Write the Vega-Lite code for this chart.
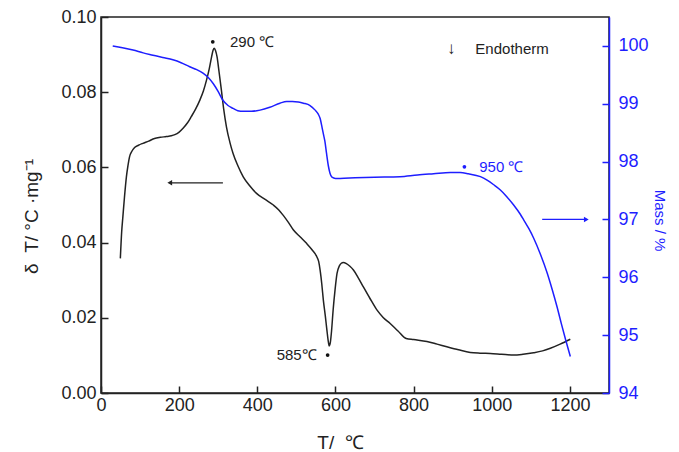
{
  "$schema": "https://vega.github.io/schema/vega-lite/v6.json",
  "width": 508,
  "height": 376,
  "autosize": {"type": "none"},
  "padding": {"left": 101, "top": 17, "right": 70, "bottom": 59},
  "background": "white",
  "config": {
    "font": "Liberation Sans",
    "view": {"stroke": "#222222", "strokeWidth": 1.5},
    "axis": {
      "grid": false,
      "labelFont": "Liberation Sans",
      "titleFont": "Liberation Sans",
      "labelFontSize": 18,
      "titleFontSize": 19,
      "titleFontWeight": "normal",
      "labelColor": "#222222",
      "titleColor": "#222222",
      "domainColor": "#222222",
      "tickColor": "#222222",
      "domainWidth": 1.5,
      "tickWidth": 1.5,
      "tickSize": -7
    }
  },
  "datasets": {
    "dta": [
      {"T": 49.5, "v": 0.0358}, {"T": 53, "v": 0.043}, {"T": 56, "v": 0.0469}, {"T": 60, "v": 0.052},
      {"T": 65, "v": 0.0575}, {"T": 69, "v": 0.0605}, {"T": 73, "v": 0.0628}, {"T": 79, "v": 0.0643},
      {"T": 86, "v": 0.0653}, {"T": 96, "v": 0.0659}, {"T": 107, "v": 0.0664}, {"T": 122, "v": 0.067},
      {"T": 137, "v": 0.0677}, {"T": 152, "v": 0.068}, {"T": 167, "v": 0.0682}, {"T": 180, "v": 0.0684},
      {"T": 189, "v": 0.0687}, {"T": 200, "v": 0.0694}, {"T": 210, "v": 0.0704}, {"T": 221, "v": 0.0718},
      {"T": 231, "v": 0.0735}, {"T": 242, "v": 0.0755}, {"T": 253, "v": 0.0779}, {"T": 262, "v": 0.0803},
      {"T": 270, "v": 0.0832}, {"T": 277, "v": 0.0862}, {"T": 283, "v": 0.0894}, {"T": 287, "v": 0.0912},
      {"T": 290, "v": 0.0917}, {"T": 293, "v": 0.0911}, {"T": 297, "v": 0.0894}, {"T": 302, "v": 0.0855},
      {"T": 308, "v": 0.0806}, {"T": 314, "v": 0.0755}, {"T": 321, "v": 0.0708}, {"T": 330, "v": 0.0666},
      {"T": 338, "v": 0.0637}, {"T": 350, "v": 0.0605}, {"T": 364, "v": 0.0575}, {"T": 380, "v": 0.0552},
      {"T": 398, "v": 0.0531}, {"T": 420, "v": 0.0515}, {"T": 441, "v": 0.05}, {"T": 455, "v": 0.0487},
      {"T": 466, "v": 0.0473}, {"T": 480, "v": 0.0453}, {"T": 492, "v": 0.0434}, {"T": 510, "v": 0.0415},
      {"T": 526, "v": 0.0398}, {"T": 540, "v": 0.0381}, {"T": 552, "v": 0.0363}, {"T": 557, "v": 0.035},
      {"T": 561, "v": 0.0325}, {"T": 565, "v": 0.029}, {"T": 569, "v": 0.0247}, {"T": 574, "v": 0.0205},
      {"T": 578, "v": 0.0168}, {"T": 581, "v": 0.0142}, {"T": 584, "v": 0.0125}, {"T": 587, "v": 0.0135},
      {"T": 590, "v": 0.0165}, {"T": 594, "v": 0.022}, {"T": 599, "v": 0.0275}, {"T": 604, "v": 0.0318},
      {"T": 610, "v": 0.0338}, {"T": 615, "v": 0.0345}, {"T": 620, "v": 0.0347}, {"T": 628, "v": 0.0344},
      {"T": 637, "v": 0.0337}, {"T": 646, "v": 0.0327}, {"T": 658, "v": 0.0307}, {"T": 671, "v": 0.0283},
      {"T": 688, "v": 0.0252}, {"T": 706, "v": 0.0221}, {"T": 722, "v": 0.0201}, {"T": 740, "v": 0.0185},
      {"T": 760, "v": 0.0165}, {"T": 781, "v": 0.0145}, {"T": 800, "v": 0.0142}, {"T": 834, "v": 0.0137},
      {"T": 860, "v": 0.013}, {"T": 885, "v": 0.0123}, {"T": 915, "v": 0.0115}, {"T": 945, "v": 0.0108},
      {"T": 970, "v": 0.0106}, {"T": 996, "v": 0.0105}, {"T": 1025, "v": 0.0103}, {"T": 1056, "v": 0.0101},
      {"T": 1080, "v": 0.0103}, {"T": 1107, "v": 0.0107}, {"T": 1130, "v": 0.0112}, {"T": 1150, "v": 0.0119},
      {"T": 1175, "v": 0.013}, {"T": 1201, "v": 0.0143}
    ],
    "mass": [
      {"T": 30, "v": 100.0}, {"T": 55, "v": 99.97}, {"T": 82, "v": 99.93}, {"T": 108, "v": 99.88},
      {"T": 133, "v": 99.84}, {"T": 158, "v": 99.8}, {"T": 184, "v": 99.76}, {"T": 205, "v": 99.71},
      {"T": 227, "v": 99.64}, {"T": 245, "v": 99.59}, {"T": 261, "v": 99.53}, {"T": 275, "v": 99.45},
      {"T": 287, "v": 99.35}, {"T": 300, "v": 99.21}, {"T": 312, "v": 99.06}, {"T": 325, "v": 98.97},
      {"T": 338, "v": 98.92}, {"T": 350, "v": 98.88}, {"T": 364, "v": 98.87}, {"T": 385, "v": 98.87},
      {"T": 407, "v": 98.89}, {"T": 432, "v": 98.94}, {"T": 458, "v": 99.01}, {"T": 475, "v": 99.04},
      {"T": 490, "v": 99.04}, {"T": 505, "v": 99.03}, {"T": 518, "v": 99.01}, {"T": 535, "v": 98.97},
      {"T": 548, "v": 98.89}, {"T": 556, "v": 98.82}, {"T": 561, "v": 98.74}, {"T": 566, "v": 98.58},
      {"T": 570, "v": 98.45}, {"T": 573, "v": 98.35}, {"T": 577, "v": 98.15}, {"T": 582, "v": 97.92},
      {"T": 586, "v": 97.8}, {"T": 591, "v": 97.73}, {"T": 600, "v": 97.71}, {"T": 612, "v": 97.71},
      {"T": 650, "v": 97.72}, {"T": 700, "v": 97.73}, {"T": 765, "v": 97.74}, {"T": 810, "v": 97.77},
      {"T": 851, "v": 97.79}, {"T": 894, "v": 97.81}, {"T": 919, "v": 97.81}, {"T": 940, "v": 97.79},
      {"T": 971, "v": 97.74}, {"T": 988, "v": 97.68}, {"T": 1005, "v": 97.6}, {"T": 1022, "v": 97.51},
      {"T": 1039, "v": 97.39}, {"T": 1056, "v": 97.25}, {"T": 1073, "v": 97.09}, {"T": 1082, "v": 96.99},
      {"T": 1095, "v": 96.84}, {"T": 1107, "v": 96.68}, {"T": 1125, "v": 96.39}, {"T": 1142, "v": 96.07},
      {"T": 1155, "v": 95.78}, {"T": 1167, "v": 95.49}, {"T": 1178, "v": 95.2}, {"T": 1189, "v": 94.92},
      {"T": 1201, "v": 94.63}
    ],
    "dtaPeaks": [
      {"T": 286, "v": 0.0934, "label": "290 ℃", "align": "left", "lx": 330},
      {"T": 580, "v": 0.0101, "label": "585℃", "align": "right", "lx": 552}
    ],
    "massPeaks": [
      {"T": 930, "v": 97.91, "label": "950 ℃", "lx": 968}
    ],
    "dtaArrow": [{"T": 312, "T2": 176, "v": 0.0559}],
    "massArrow": [{"T": 1129, "T2": 1242, "v": 97.0}],
    "endo": [{"T": 896, "v": 0.0916, "mark": "↓", "label": "Endotherm", "lx": 958}]
  },
  "encoding": {
    "x": {
      "field": "T",
      "type": "quantitative",
      "scale": {"domain": [0, 1300], "nice": false, "zero": false},
      "axis": {
        "title": "T/\u00a0 ℃",
        "values": [0, 200, 400, 600, 800, 1000, 1200],
        "format": "d",
        "labelPadding": 10,
        "labelFlush": false,
        "titleX": 239,
        "titleY": 55,
        "titleBaseline": "alphabetic"
      }
    }
  },
  "layer": [
    {
      "encoding": {
        "y": {
          "field": "v",
          "type": "quantitative",
          "scale": {"domain": [0, 0.1], "nice": false, "zero": false},
          "axis": {
            "title": "δ\u00a0\u00a0T/ °C ·mg⁻¹",
            "values": [0, 0.02, 0.04, 0.06, 0.08, 0.1],
            "format": ".2f",
            "labelPadding": 12,
            "labelFlush": false,
            "titleAngle": -90,
            "titleX": -70,
            "titleY": 199,
            "titleAlign": "center",
            "titleBaseline": "middle"
          }
        }
      },
      "layer": [
        {
          "data": {"name": "dta"},
          "mark": {"type": "line", "color": "#222222", "strokeWidth": 1.5, "interpolate": "monotone"}
        },
        {
          "data": {"name": "dtaPeaks"},
          "mark": {"type": "point", "filled": true, "color": "#111111", "size": 14, "opacity": 1}
        },
        {
          "data": {"name": "dtaPeaks"},
          "transform": [{"filter": "datum.align == 'left'"}],
          "mark": {"type": "text", "align": "left", "baseline": "middle", "fontSize": 15, "color": "#222222"},
          "encoding": {"x": {"field": "lx", "type": "quantitative"}, "text": {"field": "label"}}
        },
        {
          "data": {"name": "dtaPeaks"},
          "transform": [{"filter": "datum.align == 'right'"}],
          "mark": {"type": "text", "align": "right", "baseline": "middle", "fontSize": 15, "color": "#222222"},
          "encoding": {"x": {"field": "lx", "type": "quantitative"}, "text": {"field": "label"}}
        },
        {
          "data": {"name": "dtaArrow"},
          "mark": {"type": "rule", "color": "#222222", "strokeWidth": 1.3},
          "encoding": {"x2": {"field": "T2"}}
        },
        {
          "data": {"name": "dtaArrow"},
          "mark": {"type": "point", "shape": "triangle-left", "filled": true, "color": "#222222", "size": 30, "opacity": 1},
          "encoding": {"x": {"field": "T2", "type": "quantitative"}}
        },
        {
          "data": {"name": "endo"},
          "mark": {"type": "text", "align": "center", "baseline": "middle", "fontSize": 17, "color": "#222222"},
          "encoding": {"text": {"field": "mark"}}
        },
        {
          "data": {"name": "endo"},
          "mark": {"type": "text", "align": "left", "baseline": "middle", "fontSize": 15, "color": "#222222"},
          "encoding": {"x": {"field": "lx", "type": "quantitative"}, "text": {"field": "label"}}
        }
      ]
    },
    {
      "encoding": {
        "y": {
          "field": "v",
          "type": "quantitative",
          "scale": {"domain": [94, 100.5], "nice": false, "zero": false},
          "axis": {
            "orient": "right",
            "title": "Mass / %",
            "values": [94, 95, 96, 97, 98, 99, 100],
            "labelPadding": 16,
            "labelFlush": false,
            "labelColor": "#1e1eff",
            "domainColor": "#1e1eff",
            "tickColor": "#1e1eff",
            "titleColor": "#1e1eff",
            "titleFontSize": 15,
            "titleAngle": 90,
            "titleX": 50,
            "titleY": 203,
            "titleAlign": "center",
            "titleBaseline": "middle"
          }
        }
      },
      "layer": [
        {
          "data": {"name": "mass"},
          "mark": {"type": "line", "color": "#1e1eff", "strokeWidth": 1.5, "interpolate": "monotone"}
        },
        {
          "data": {"name": "massPeaks"},
          "mark": {"type": "point", "filled": true, "color": "#1e1eff", "size": 14, "opacity": 1}
        },
        {
          "data": {"name": "massPeaks"},
          "mark": {"type": "text", "align": "left", "baseline": "middle", "fontSize": 15, "color": "#1e1eff"},
          "encoding": {"x": {"field": "lx", "type": "quantitative"}, "text": {"field": "label"}}
        },
        {
          "data": {"name": "massArrow"},
          "mark": {"type": "rule", "color": "#1e1eff", "strokeWidth": 1.3},
          "encoding": {"x2": {"field": "T2"}}
        },
        {
          "data": {"name": "massArrow"},
          "mark": {"type": "point", "shape": "triangle-right", "filled": true, "color": "#1e1eff", "size": 30, "opacity": 1},
          "encoding": {"x": {"field": "T2", "type": "quantitative"}}
        }
      ]
    }
  ],
  "resolve": {"scale": {"y": "independent"}}
}
